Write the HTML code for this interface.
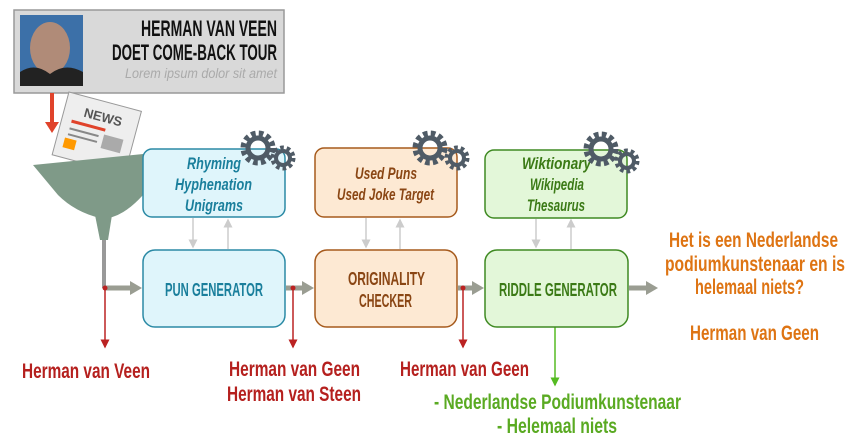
<!DOCTYPE html>
<html><head><meta charset="utf-8"><style>
html,body{margin:0;padding:0;background:#fff;width:850px;height:437px;overflow:hidden}
svg text{font-family:"Liberation Sans",sans-serif;font-weight:bold}
</style></head><body>
<svg width="850" height="437" viewBox="0 0 850 437" xmlns="http://www.w3.org/2000/svg">
<defs>
<marker id="ga" markerWidth="6" markerHeight="6" refX="5" refY="3" orient="auto"><path d="M0,0 L6,3 L0,6z" fill="#ccc"/></marker>
<marker id="ra" markerWidth="6" markerHeight="6" refX="5" refY="3" orient="auto"><path d="M0,0 L6,3 L0,6z" fill="#b22"/></marker>
<marker id="gr" markerWidth="6" markerHeight="6" refX="5" refY="3" orient="auto"><path d="M0,0 L6,3 L0,6z" fill="#5b2"/></marker>
<g id="gear1"><circle r="14" fill="none" stroke="#4f5b66" stroke-width="7" stroke-dasharray="4.4 3"/><circle r="10" fill="none" stroke="#4f5b66" stroke-width="5"/></g>
<g id="gear2"><circle r="10" fill="none" stroke="#4f5b66" stroke-width="5" stroke-dasharray="3.5 2.8"/><circle r="7" fill="none" stroke="#4f5b66" stroke-width="4"/></g>
</defs>
<rect x="14" y="10" width="270" height="83" fill="#d9d9d9" stroke="#999" stroke-width="1.5"/>
<rect x="20" y="15" width="63" height="71" fill="#3c70a8"/>
<ellipse cx="50" cy="48" rx="20" ry="26" fill="#b08b78"/>
<path d="M20,86 L20,72 Q35,62 50,74 Q65,62 83,72 L83,86z" fill="#222"/>
<text x="141" y="36" font-size="22" fill="#111" textLength="136" lengthAdjust="spacingAndGlyphs">HERMAN VAN VEEN</text>
<text x="112" y="60" font-size="22" fill="#111" textLength="165" lengthAdjust="spacingAndGlyphs">DOET COME-BACK TOUR</text>
<text x="125" y="78" font-size="14" fill="#aaa" font-style="italic" style="font-weight:normal" textLength="152" lengthAdjust="spacingAndGlyphs">Lorem ipsum dolor sit amet</text>
<line x1="52" y1="93" x2="52" y2="125" stroke="#e0432b" stroke-width="4"/>
<path d="M45,122 L59,122 L52,133z" fill="#e0432b"/>
<g transform="rotate(15 95 130)">
<rect x="60" y="100" width="75" height="65" fill="#eee" stroke="#999"/>
<text x="80" y="120" font-size="13" fill="#555">NEWS</text>
<rect x="70" y="126" width="35" height="3" fill="#e0432b"/>
<rect x="70" y="134" width="30" height="2" fill="#888"/><rect x="70" y="140" width="30" height="2" fill="#888"/>
<rect x="105" y="132" width="20" height="14" fill="#aaa"/>
<rect x="68" y="145" width="12" height="10" fill="#f90"/>
</g>
<path d="M33,165 L163,152 L143,195 Q125,215 108,218 L100,218 Q75,212 58,195 Z" fill="#7f9a88"/>
<path d="M95,215 L112,215 L108,240 L100,240z" fill="#7f9a88"/>
<line x1="104" y1="240" x2="104" y2="288" stroke="#999" stroke-width="4"/>
<g stroke="#9a9d92" stroke-width="5" fill="#9a9d92">
<line x1="104" y1="288" x2="132" y2="288"/><path d="M130,281 L142,288 L130,295z" stroke="none"/>
<line x1="286" y1="288" x2="304" y2="288"/><path d="M302,281 L314,288 L302,295z" stroke="none"/>
<line x1="458" y1="288" x2="474" y2="288"/><path d="M472,281 L484,288 L472,295z" stroke="none"/>
<line x1="629" y1="288" x2="648" y2="288"/><path d="M646,281 L658,288 L646,295z" stroke="none"/>
</g>
<g stroke="#b22" stroke-width="1.5">
<line x1="105" y1="288" x2="105" y2="347" marker-end="url(#ra)"/>
<line x1="293" y1="288" x2="293" y2="347" marker-end="url(#ra)"/>
<line x1="463" y1="288" x2="463" y2="347" marker-end="url(#ra)"/>
</g>
<circle cx="105" cy="288" r="2.5" fill="#b22"/><circle cx="293" cy="288" r="2.5" fill="#b22"/><circle cx="463" cy="288" r="2.5" fill="#b22"/>
<line x1="555" y1="321" x2="555" y2="385" stroke="#5b2" stroke-width="1.5" marker-end="url(#gr)"/>
<circle cx="555" cy="321" r="3" fill="#5b2"/>
<g stroke="#ccc" stroke-width="1.5">
<line x1="193" y1="218" x2="193" y2="247" marker-end="url(#ga)"/><line x1="228" y1="249" x2="228" y2="220" marker-end="url(#ga)"/>
<line x1="366" y1="218" x2="366" y2="247" marker-end="url(#ga)"/><line x1="400" y1="249" x2="400" y2="220" marker-end="url(#ga)"/>
<line x1="536" y1="219" x2="536" y2="247" marker-end="url(#ga)"/><line x1="571" y1="249" x2="571" y2="220" marker-end="url(#ga)"/>
</g>
<rect x="143" y="149" width="142" height="68" rx="9" fill="#dff5fb" stroke="#2b8aa5" stroke-width="1.5"/>
<rect x="143" y="250" width="142" height="77" rx="12" fill="#dff5fb" stroke="#2b8aa5" stroke-width="1.5"/>
<rect x="315" y="148" width="142" height="69" rx="9" fill="#fde9d3" stroke="#a65a1c" stroke-width="1.5"/>
<rect x="315" y="250" width="142" height="77" rx="12" fill="#fde9d3" stroke="#a65a1c" stroke-width="1.5"/>
<rect x="485" y="150" width="142" height="68" rx="9" fill="#e3f7d9" stroke="#3f8a22" stroke-width="1.5"/>
<rect x="485" y="250" width="143" height="77" rx="12" fill="#e3f7d9" stroke="#3f8a22" stroke-width="1.5"/>
<g font-style="italic" font-size="17">
<text x="187" y="169" fill="#1a7f9c" textLength="54" lengthAdjust="spacingAndGlyphs">Rhyming</text>
<text x="175" y="190" fill="#1a7f9c" textLength="77" lengthAdjust="spacingAndGlyphs">Hyphenation</text>
<text x="185" y="211" fill="#1a7f9c" textLength="58" lengthAdjust="spacingAndGlyphs">Unigrams</text>
<text x="355" y="179" fill="#8a4614" textLength="62" lengthAdjust="spacingAndGlyphs">Used Puns</text>
<text x="337" y="200" fill="#8a4614" textLength="97" lengthAdjust="spacingAndGlyphs">Used Joke Target</text>
<text x="522" y="169" fill="#3b7a16" textLength="69" lengthAdjust="spacingAndGlyphs">Wiktionary</text>
<text x="530" y="190" fill="#3b7a16" textLength="54" lengthAdjust="spacingAndGlyphs">Wikipedia</text>
<text x="527" y="211" fill="#3b7a16" textLength="58" lengthAdjust="spacingAndGlyphs">Thesaurus</text>
</g>
<g font-size="18">
<text x="165" y="296" fill="#1a7f9c" textLength="98" lengthAdjust="spacingAndGlyphs">PUN GENERATOR</text>
<text x="348" y="285" fill="#8a4614" textLength="77" lengthAdjust="spacingAndGlyphs">ORIGINALITY</text>
<text x="359" y="307" fill="#8a4614" textLength="53" lengthAdjust="spacingAndGlyphs">CHECKER</text>
<text x="499" y="296" fill="#3b7a16" textLength="118" lengthAdjust="spacingAndGlyphs">RIDDLE GENERATOR</text>
</g>
<use href="#gear1" x="258" y="148"/><use href="#gear2" x="283" y="158"/>
<use href="#gear1" x="430" y="148"/><use href="#gear2" x="457" y="158"/>
<use href="#gear1" x="601" y="149"/><use href="#gear2" x="627" y="161"/>
<g font-size="21" fill="#b5201e">
<text x="22" y="378" textLength="128" lengthAdjust="spacingAndGlyphs">Herman van Veen</text>
<text x="229" y="376" textLength="131" lengthAdjust="spacingAndGlyphs">Herman van Geen</text>
<text x="227" y="401" textLength="134" lengthAdjust="spacingAndGlyphs">Herman van Steen</text>
<text x="400" y="376" textLength="129" lengthAdjust="spacingAndGlyphs">Herman van Geen</text>
</g>
<g font-size="21" fill="#5aaa22">
<text x="434" y="409" textLength="247" lengthAdjust="spacingAndGlyphs">- Nederlandse Podiumkunstenaar</text>
<text x="497" y="433" textLength="120" lengthAdjust="spacingAndGlyphs">- Helemaal niets</text>
</g>
<g font-size="21" fill="#de7413">
<text x="669" y="247" textLength="169" lengthAdjust="spacingAndGlyphs">Het is een Nederlandse</text>
<text x="665" y="271" textLength="180" lengthAdjust="spacingAndGlyphs">podiumkunstenaar en is</text>
<text x="695" y="294" textLength="109" lengthAdjust="spacingAndGlyphs">helemaal niets?</text>
<text x="690" y="340" textLength="129" lengthAdjust="spacingAndGlyphs">Herman van Geen</text>
</g>
</svg>
</body></html>
